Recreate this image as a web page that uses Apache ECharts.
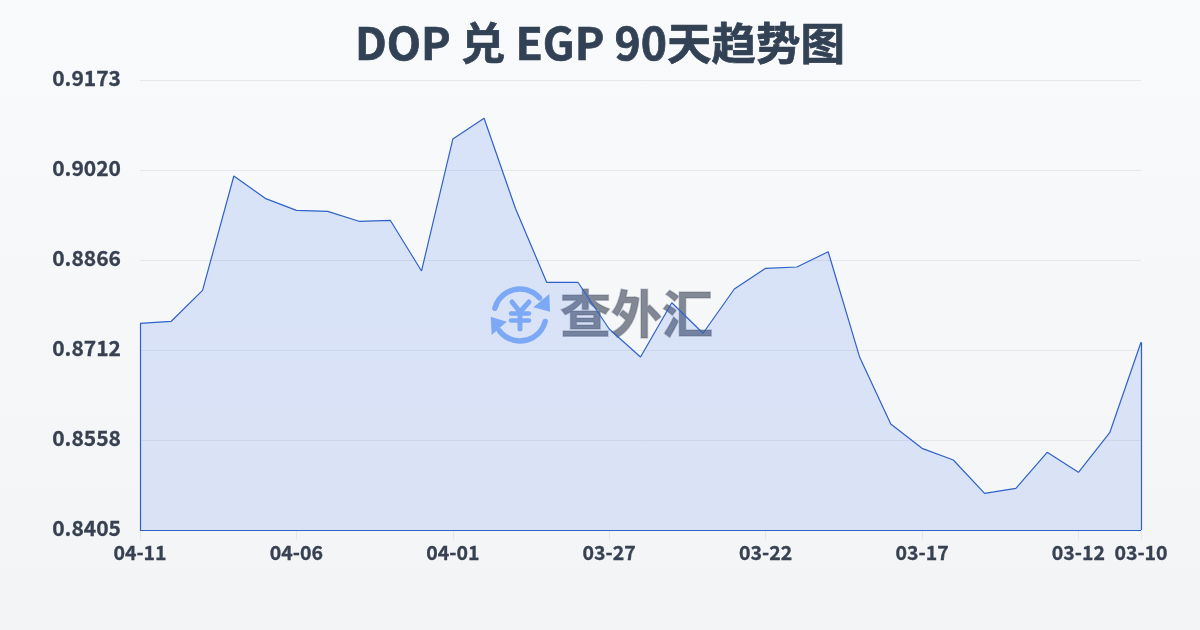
<!DOCTYPE html>
<html><head><meta charset="utf-8">
<style>html,body{margin:0;padding:0;background:#f8fafc}#c{width:1200px;height:630px}</style>
<script src="https://cdn.jsdelivr.net/npm/echarts@6/dist/echarts.min.js"></script>
</head><body><div id="c"></div>
<script>
const titleText = 'DOP 兑 EGP 90天趋势图';
const categories = ['04-11','04-10','04-09','04-08','04-07','04-06','04-05','04-04','04-03','04-02','04-01','03-31','03-30','03-29','03-28','03-27','03-26','03-25','03-24','03-23','03-22','03-21','03-20','03-19','03-18','03-17','03-16','03-15','03-14','03-13','03-12','03-11','03-10'];
const values = [0.87577,0.87612,0.88141,0.90093,0.89712,0.89507,0.89490,0.89320,0.89337,0.88471,0.90725,0.91079,0.89542,0.88278,0.88278,0.87480,0.87002,0.87929,0.87407,0.88163,0.88517,0.88539,0.88800,0.87007,0.85857,0.85442,0.85243,0.84674,0.84759,0.85374,0.85033,0.85709,0.87253];
const axisMin = 0.84047, axisMax = 0.91733, axisStep = 0.015372;
const lastIndex = categories.length - 1;
const chart = echarts.init(document.getElementById('c'), null, {renderer:'canvas'});
const F = '"Noto Sans CJK SC",sans-serif';
const lineColor = '#2f62c8';
const iconColor = '#8ab4f8';
const showEvery = (i) => i % 5 === 0 || i === lastIndex;
const iconStroke = {fill:'none',stroke:iconColor,lineWidth:5.5,lineCap:'round',lineJoin:'round'};
chart.setOption({
  animation:false,
  backgroundColor:{type:'linear',x:0,y:0,x2:0,y2:1,colorStops:[{offset:0,color:'#f8fafc'},{offset:1,color:'#f3f4f6'}]},
  title:{text:titleText,left:'center',top:16,textStyle:{fontFamily:F,fontSize:44.5,fontWeight:'bold',color:'#334155',textBorderColor:'#334155',textBorderWidth:0.7}},
  grid:{left:140,right:59,top:80,bottom:100},
  xAxis:{type:'category',boundaryGap:false,data:categories,
    axisLine:{show:false},
    axisTick:{show:true,alignWithLabel:true,length:10,lineStyle:{color:'#e5e7eb'},interval:showEvery},
    axisLabel:{interval:showEvery,margin:13,fontFamily:F,fontSize:19.5,fontWeight:'bold',color:'#374151',textBorderColor:'#374151',textBorderWidth:0.3,hideOverlap:false},
    splitLine:{show:false}},
  yAxis:{type:'value',min:axisMin,max:axisMax,interval:axisStep,
    axisLine:{show:false},axisTick:{show:false},
    axisLabel:{margin:19,verticalAlign:'bottom',lineHeight:4,fontFamily:F,fontSize:21,fontWeight:'bold',color:'#374151',textBorderColor:'#374151',textBorderWidth:0.3,formatter:v=>v.toFixed(4)},
    splitLine:{show:true,lineStyle:{color:'#e5e7eb',width:1}}},
  graphic:[
    {type:'group',silent:true,children:[
      {type:'arc',shape:{cx:520,cy:315,r:26,startAngle:-2.88,endAngle:-0.72},style:iconStroke},
      {type:'arc',shape:{cx:520,cy:315,r:26,startAngle:0.25,endAngle:2.48},style:iconStroke},
      {type:'polygon',shape:{points:[[549.3,294],[550,311.7],[533.3,307.3]]},style:{fill:iconColor}},
      {type:'polygon',shape:{points:[[490.7,316.7],[506.7,321.7],[491.7,335]]},style:{fill:iconColor}},
      {type:'polyline',shape:{points:[[512,302],[520,312],[529,302]]},style:{...iconStroke,lineWidth:5}},
      {type:'line',shape:{x1:520,y1:312,x2:520,y2:329},style:{...iconStroke,lineWidth:5}},
      {type:'line',shape:{x1:511,y1:313.5,x2:529,y2:313.5},style:{...iconStroke,lineWidth:4.5}},
      {type:'line',shape:{x1:511,y1:320.5,x2:529,y2:320.5},style:{...iconStroke,lineWidth:4.5}}
    ]},
    {type:'text',x:560,y:288,silent:true,style:{text:'查外汇',fontSize:51,fontWeight:'bold',fontFamily:F,fill:'rgba(75,82,100,0.68)',stroke:'rgba(75,82,100,0.3)',lineWidth:1.5}}
  ],
  series:[{type:'line',data:values,symbol:'none',smooth:false,z:3,
    lineStyle:{color:lineColor,width:1.2},
    areaStyle:{color:{type:'linear',x:0,y:0,x2:0,y2:1,colorStops:[{offset:0,color:'rgba(37,99,235,0.21)'},{offset:1,color:'rgba(37,99,235,0.18)'}]}},
    markLine:{silent:true,symbol:'none',label:{show:false},lineStyle:{color:lineColor,width:1.2,type:'solid'},emphasis:{disabled:true},
      data:[
        [{coord:[categories[0],axisMin]},{coord:[categories[0],values[0]]}],
        [{coord:[categories[lastIndex],axisMin]},{coord:[categories[lastIndex],values[lastIndex]]}],
        [{coord:[categories[0],axisMin]},{coord:[categories[lastIndex],axisMin]}]
      ]}
  }]
});
</script></body></html>
